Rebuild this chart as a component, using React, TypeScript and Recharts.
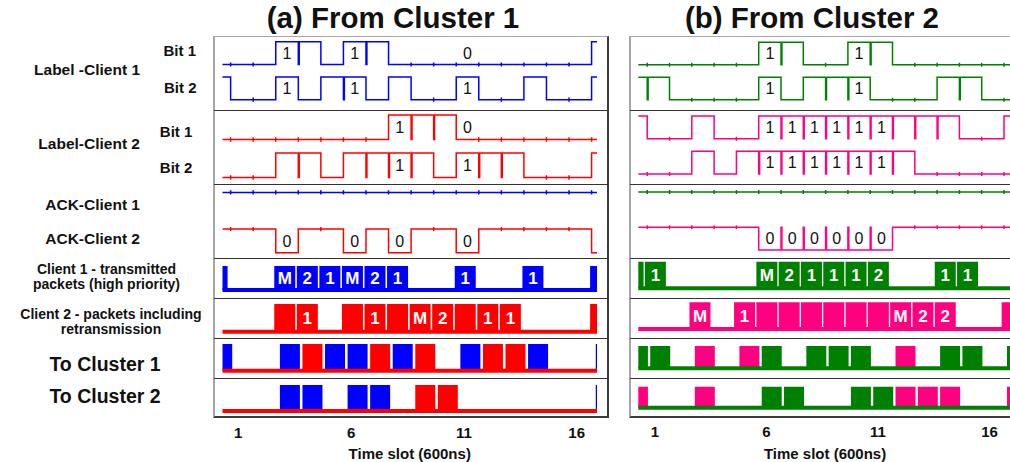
import React from 'react';
import { ComposedChart, Line, Bar, XAxis, YAxis, ReferenceLine, LabelList, Cell } from 'recharts';

// Every trace is listed per time slot, slot 0 .. 17 (0 and 17 are only partly visible).
// Signals: 1 = high, 0 = low.  Packets: null = idle, '' = packet without a tag.
// Cluster traffic: 0 = idle, 1 = packet of client 1, 2 = packet of client 2.

const TIME_TICKS = [1, 6, 11, 16];
const ALL_HIGH = [1, 1, 1, 1, 1, 1, 1, 1, 1, 1, 1, 1, 1, 1, 1, 1, 1, 1];

// (a) From Cluster 1
const aLabel1Bit1 = [0, 0, 0, 1, 1, 0, 1, 1, 0, 0, 0, 0, 0, 0, 0, 0, 0, 1];
const aLabel1Bit2 = [1, 0, 0, 1, 0, 1, 1, 0, 1, 0, 0, 1, 0, 0, 1, 0, 0, 1];
const aLabel2Bit1 = [0, 0, 0, 0, 0, 0, 0, 0, 1, 1, 1, 0, 0, 0, 0, 0, 0, 0];
const aLabel2Bit2 = [0, 0, 0, 1, 1, 0, 1, 1, 1, 1, 0, 1, 1, 1, 0, 0, 0, 1];
const aAck1 = ALL_HIGH;
const aAck2 = [1, 1, 1, 0, 1, 1, 0, 1, 0, 1, 1, 0, 1, 1, 1, 1, 1, 0];
const aLabel1Bit1Marks = [[3, '1'], [6, '1'], [11, '0']];
const aLabel1Bit2Marks = [[3, '1'], [6, '1'], [11, '1']];
const aLabel2Bit1Marks = [[8, '1'], [11, '0']];
const aLabel2Bit2Marks = [[8, '1'], [11, '1']];
const aAck2Marks = [[3, '0'], [6, '0'], [8, '0'], [11, '0']];
const aClient1Packets = ['', null, null, 'M', '2', '1', 'M', '2', '1', null, null, '1', null, null, '1', null, null, ''];
const aClient2Packets = [null, null, null, '', '1', null, '', '1', '', 'M', '2', '', '1', '1', null, null, null, ''];
const aToCluster1 = [1, 0, 0, 1, 2, 1, 1, 2, 1, 2, 0, 1, 2, 2, 1, 0, 0, 1];
const aToCluster2 = [0, 0, 0, 1, 1, 0, 1, 1, 0, 2, 2, 0, 0, 0, 0, 0, 0, 1];

// (b) From Cluster 2
const bLabel1Bit1 = [0, 0, 0, 0, 0, 0, 1, 1, 0, 0, 1, 1, 0, 0, 0, 0, 0, 0];
const bLabel1Bit2 = [1, 1, 0, 0, 0, 0, 1, 0, 1, 1, 1, 0, 0, 0, 1, 1, 0, 0];
const bLabel2Bit1 = [1, 0, 0, 1, 0, 0, 1, 1, 1, 1, 1, 1, 1, 1, 1, 0, 0, 1];
const bLabel2Bit2 = [0, 0, 0, 1, 0, 1, 1, 1, 1, 1, 1, 1, 1, 0, 0, 0, 0, 0];
const bAck1 = ALL_HIGH;
const bAck2 = [1, 1, 1, 1, 1, 1, 0, 0, 0, 0, 0, 0, 1, 1, 1, 1, 1, 1];
const bLabel1Bit1Marks = [[6, '1'], [10, '1']];
const bLabel1Bit2Marks = [[6, '1'], [10, '1']];
const bLabel2Bit1Marks = [[6, '1'], [7, '1'], [8, '1'], [9, '1'], [10, '1'], [11, '1']];
const bLabel2Bit2Marks = [[6, '1'], [7, '1'], [8, '1'], [9, '1'], [10, '1'], [11, '1']];
const bAck2Marks = [[6, '0'], [7, '0'], [8, '0'], [9, '0'], [10, '0'], [11, '0']];
const bClient1Packets = ['', '1', null, null, null, null, 'M', '2', '1', '1', '1', '2', null, null, '1', '1', null, null];
const bClient2Packets = [null, null, null, 'M', null, '1', '', '', '', '', '', '', 'M', '2', '2', null, null, ''];
const bToCluster1 = [1, 1, 0, 2, 0, 2, 1, 0, 1, 1, 1, 0, 2, 0, 1, 1, 0, 1];
const bToCluster2 = [2, 0, 0, 2, 0, 0, 1, 1, 0, 0, 1, 1, 2, 2, 2, 0, 0, 2];

// measured lag of each kind of trace, in slots
const A_DELAY = { label: 0.16, packet: 0.05, cluster: 0.3 };
const B_DELAY = { label: 0.15, packet: 0, cluster: 0.24 };

const FONT = '"Liberation Sans", Arial, sans-serif';
const TOP_OFFSET = 1.55;
const TICK = 0.09;

const COL_A = { left: 214, width: 394, ml: 8.5, mr: 11, domain: [0.3, 16.9], tickMargin: 10, c1: '#0000ff', c2: '#ff0000', base: '#ff0000', delay: A_DELAY };
const COL_B = { left: 630, width: 390, ml: 8.3, mr: 8.2, domain: [0.25, 17], tickMargin: 13, c1: '#008000', c2: '#ff0080', base: '#008000', delay: B_DELAY };

const ROWS_A = [
  { top: 37, bottom: 110, pt: 41.7, pb: 101.7 },
  { top: 110, bottom: 184, pt: 115, pb: 179.7 },
  { top: 184, bottom: 258, pt: 190.3, pb: 252.7 },
  { top: 258, bottom: 298, pt: 266, pb: 290 },
  { top: 298, bottom: 338, pt: 304, pb: 331.7 },
  { top: 338, bottom: 378, pt: 344, pb: 370.7 },
  { top: 378, bottom: 462, pt: 385, pb: 411 },
];
const ROWS_B = [
  { top: 37, bottom: 110, pt: 42.3, pb: 101.7 },
  { top: 110, bottom: 184, pt: 116, pb: 176 },
  { top: 184, bottom: 258, pt: 190, pb: 250 },
  { top: 258, bottom: 298, pt: 261.7, pb: 288.3 },
  { top: 298, bottom: 338, pt: 302.3, pb: 329 },
  { top: 338, bottom: 378, pt: 346, pb: 368.3 },
  { top: 378, bottom: 462, pt: 386.7, pb: 407.7 },
];

const slotAt = (t, d) => Math.floor(t - d + 0.5);

function stepPoints(bits, d, domain, offset, glitch) {
  const [t0, t1] = domain;
  const lvl = (b) => offset + b;
  const first = slotAt(t0, d);
  const last = Math.min(bits.length - 1, slotAt(t1, d));
  const pts = [{ t: t0, y: lvl(bits[first]) }];
  for (let s = first + 1; s <= last; s++) {
    const edge = s - 0.5 + d;
    const prev = bits[s - 1];
    const cur = bits[s];
    if (prev !== cur) {
      pts.push({ t: edge, y: lvl(prev) }, { t: edge, y: lvl(cur) });
    } else if (glitch !== undefined && cur === glitch) {
      pts.push({ t: edge, y: lvl(cur) }, { t: edge, y: lvl(1 - cur) }, { t: edge + 0.04, y: lvl(1 - cur) }, { t: edge + 0.04, y: lvl(cur) });
    } else {
      // the scope's small clock marks on flat stretches
      pts.push({ t: edge, y: lvl(cur) }, { t: edge, y: lvl(cur) + TICK }, { t: edge, y: lvl(cur) - TICK }, { t: edge, y: lvl(cur) });
    }
  }
  pts.push({ t: t1, y: lvl(bits[last]) });
  return pts;
}

function chartMargin(col, row) {
  return { top: row.pt - row.top, bottom: row.bottom - row.pb, left: col.ml, right: col.mr };
}

function SignalRow({ col, row, traces }) {
  const d = col.delay.label;
  return (
    <div style={{ position: 'absolute', left: col.left, top: row.top }}>
      <ComposedChart width={col.width} height={row.bottom - row.top} margin={chartMargin(col, row)}>
        <XAxis type="number" dataKey="t" domain={col.domain} hide />
        <YAxis type="number" domain={[0, 1 + TOP_OFFSET]} hide />
        {traces.map((tr, i) => (
          <Line key={'l' + i} type="linear" data={stepPoints(tr.bits, d, col.domain, tr.offset, tr.glitch)} dataKey="y"
            stroke={tr.color} strokeWidth={1.5} dot={false} isAnimationActive={false} />
        ))}
        {traces.filter((tr) => tr.marks).map((tr, i) => (
          <Line key={'m' + i} data={tr.marks.map(([s, text]) => ({ t: s + d, y: tr.offset + 0.5, text }))} dataKey="y"
            stroke="none" dot={false} isAnimationActive={false}>
            <LabelList dataKey="text" position="center" fill="#111" fontSize={16} />
          </Line>
        ))}
      </ComposedChart>
    </div>
  );
}

function PacketRow({ col, row, packets, color }) {
  const data = packets.map((lab, s) => ({ t: s + col.delay.packet, v: lab === null ? 0 : 1, lab: lab ?? '' }));
  return (
    <div style={{ position: 'absolute', left: col.left, top: row.top }}>
      <ComposedChart width={col.width} height={row.bottom - row.top} margin={chartMargin(col, row)} data={data}>
        <XAxis type="number" dataKey="t" domain={col.domain} allowDataOverflow hide />
        <YAxis type="number" domain={[0, 1]} hide />
        <ReferenceLine y={0} stroke={color} strokeWidth={4} />
        <Bar dataKey="v" fill={color} barSize={21} isAnimationActive={false}>
          <LabelList dataKey="lab" position="center" fill="#fff" fontSize={17} fontWeight="bold" />
        </Bar>
      </ComposedChart>
    </div>
  );
}

function ClusterRow({ col, row, traffic, withAxis }) {
  const data = traffic.map((c, s) => ({ t: s + col.delay.cluster, v: c ? 1 : 0, c }));
  const margin = withAxis ? { ...chartMargin(col, row), bottom: 0 } : chartMargin(col, row);
  return (
    <div style={{ position: 'absolute', left: col.left, top: row.top }}>
      <ComposedChart width={col.width} height={row.bottom - row.top} margin={margin} data={data}>
        {withAxis ? (
          <XAxis type="number" dataKey="t" domain={col.domain} allowDataOverflow ticks={TIME_TICKS} interval={0}
            axisLine={false} tickLine={false} tickMargin={col.tickMargin} height={row.bottom - row.pb}
            tick={{ fontSize: 15, fontWeight: 'bold', fill: '#111' }}
            label={{ value: 'Time slot (600ns)', position: 'insideBottom', offset: 3.5, fontSize: 15, fontWeight: 'bold', fill: '#111' }} />
        ) : (
          <XAxis type="number" dataKey="t" domain={col.domain} allowDataOverflow hide />
        )}
        <YAxis type="number" domain={[0, 1]} hide />
        <ReferenceLine y={0} stroke={col.base} strokeWidth={4} />
        <Bar dataKey="v" barSize={20} isAnimationActive={false}>
          {data.map((r, i) => <Cell key={i} fill={r.c === 2 ? col.c2 : col.c1} />)}
        </Bar>
      </ComposedChart>
    </div>
  );
}

function Column({ col, rows, sig, title, titleX }) {
  const [r1, r2, r3, r4, r5, r6, r7] = rows;
  const frameRight = col.left + col.width;
  return (
    <>
      <div style={{ position: 'absolute', left: titleX, top: 18, transform: 'translate(-50%, -50%)', fontSize: 29.5, fontWeight: 'bold', whiteSpace: 'nowrap' }}>{title}</div>
      <SignalRow col={col} row={r1} traces={[
        { bits: sig.l1b1, offset: TOP_OFFSET, color: col.c1, glitch: 1, marks: sig.l1b1m },
        { bits: sig.l1b2, offset: 0, color: col.c1, glitch: 1, marks: sig.l1b2m },
      ]} />
      <SignalRow col={col} row={r2} traces={[
        { bits: sig.l2b1, offset: TOP_OFFSET, color: col.c2, glitch: 1, marks: sig.l2b1m },
        { bits: sig.l2b2, offset: 0, color: col.c2, glitch: 1, marks: sig.l2b2m },
      ]} />
      <SignalRow col={col} row={r3} traces={[
        { bits: sig.ack1, offset: TOP_OFFSET, color: col.c1 },
        { bits: sig.ack2, offset: 0, color: col.c2, glitch: 0, marks: sig.ack2m },
      ]} />
      <PacketRow col={col} row={r4} packets={sig.p1} color={col.c1} />
      <PacketRow col={col} row={r5} packets={sig.p2} color={col.c2} />
      <ClusterRow col={col} row={r6} traffic={sig.tc1} />
      <ClusterRow col={col} row={r7} traffic={sig.tc2} withAxis />
      <div style={{ position: 'absolute', left: col.left - 1, top: 36, width: frameRight - col.left + 2, height: 382, boxSizing: 'border-box',
        borderLeft: '2px solid #a6a6a6', borderTop: '1px solid #a6a6a6', borderRight: '2px solid #3c3c3c', borderBottom: '2px solid #3c3c3c' }} />
      {[110, 184, 258, 298, 338, 378].map((y) => (
        <div key={y} style={{ position: 'absolute', left: col.left, top: y - 0.5, width: frameRight - col.left, height: 1.3, background: '#333' }} />
      ))}
    </>
  );
}

function Txt({ x, y, size = 15, align = 'right', children }) {
  const style = align === 'right'
    ? { position: 'absolute', right: 1010 - x, top: y, transform: 'translateY(-50%)' }
    : { position: 'absolute', left: x, top: y, transform: 'translate(-50%, -50%)' };
  return <div style={{ ...style, fontSize: size, fontWeight: 'bold', whiteSpace: 'nowrap', lineHeight: 1 }}>{children}</div>;
}

export default function App() {
  return (
    <div style={{ position: 'absolute', left: 0, top: 0, width: 1010, height: 462, overflow: 'hidden', background: '#fff', fontFamily: FONT, color: '#111' }}>
      <Txt x={196} y={50}>Bit 1</Txt>
      <Txt x={196.5} y={86.7}>Bit 2</Txt>
      <Txt x={140} y={70} size={15.5}>Label -Client 1</Txt>
      <Txt x={192.3} y={131}>Bit 1</Txt>
      <Txt x={192.3} y={166.7}>Bit 2</Txt>
      <Txt x={140} y={144} size={15.5}>Label-Client 2</Txt>
      <Txt x={140} y={205} size={15.5}>ACK-Client 1</Txt>
      <Txt x={140} y={239.3} size={15.5}>ACK-Client 2</Txt>
      <Txt x={106.5} y={268.8} size={14} align="center">Client 1 - transmitted</Txt>
      <Txt x={106.5} y={283.8} size={14} align="center">packets (high priority)</Txt>
      <Txt x={111} y={313.5} size={14} align="center">Client 2 - packets including</Txt>
      <Txt x={111} y={328.5} size={14} align="center">retransmission</Txt>
      <Txt x={105} y={365} size={19.5} align="center">To Cluster 1</Txt>
      <Txt x={105} y={396.7} size={19.5} align="center">To Cluster 2</Txt>
      <Column col={COL_A} rows={ROWS_A} title="(a) From Cluster 1" titleX={393} sig={{
        l1b1: aLabel1Bit1, l1b2: aLabel1Bit2, l2b1: aLabel2Bit1, l2b2: aLabel2Bit2, ack1: aAck1, ack2: aAck2,
        l1b1m: aLabel1Bit1Marks, l1b2m: aLabel1Bit2Marks, l2b1m: aLabel2Bit1Marks, l2b2m: aLabel2Bit2Marks, ack2m: aAck2Marks,
        p1: aClient1Packets, p2: aClient2Packets, tc1: aToCluster1, tc2: aToCluster2,
      }} />
      <Column col={COL_B} rows={ROWS_B} title="(b) From Cluster 2" titleX={812} sig={{
        l1b1: bLabel1Bit1, l1b2: bLabel1Bit2, l2b1: bLabel2Bit1, l2b2: bLabel2Bit2, ack1: bAck1, ack2: bAck2,
        l1b1m: bLabel1Bit1Marks, l1b2m: bLabel1Bit2Marks, l2b1m: bLabel2Bit1Marks, l2b2m: bLabel2Bit2Marks, ack2m: bAck2Marks,
        p1: bClient1Packets, p2: bClient2Packets, tc1: bToCluster1, tc2: bToCluster2,
      }} />
    </div>
  );
}
